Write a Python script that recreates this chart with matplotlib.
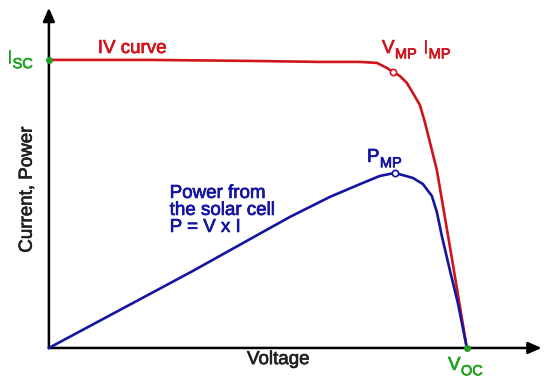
import numpy as np
import matplotlib.pyplot as plt
import matplotlib.patheffects as pe

plt.rcParams['font.family'] = ['Liberation Sans', 'DejaVu Sans']

# IV curve, normalised (V / Voc, I / Isc)
iv_v = [0.0, 0.2416, 0.4809, 0.6483, 0.744, 0.7847, 0.8086, 0.823, 0.8397, 0.8565,
        0.8708, 0.8876, 0.8995, 0.9115, 0.9282, 0.9641, 1.0]
iv_i = [1.0, 1.0, 0.9965, 0.9931, 0.9931, 0.9896, 0.9722, 0.9583, 0.9444, 0.9201,
        0.8854, 0.8438, 0.7847, 0.7153, 0.6181, 0.3125, 0.0]

# power curve, same scale
pw_v = [0.0, 0.3445, 0.5766, 0.6722, 0.7512, 0.7919, 0.8278, 0.8708, 0.8947, 0.9163,
        0.9282, 0.9402, 0.9593, 0.9785, 1.0]
pw_p = [0.0, 0.2674, 0.4549, 0.5243, 0.5729, 0.5972, 0.6076, 0.5903, 0.5694, 0.5278,
        0.4722, 0.3889, 0.2708, 0.1563, 0.0]

# maximum power points
mpi_v, mpi_i = 0.823, 0.9583
mpp_v, mpp_p = 0.8278, 0.6076

red = '#d0141c'
blue = '#1414a0'
green = '#1fa01f'

fig = plt.figure(figsize=(5.5, 3.88), dpi=100)
ax = fig.add_axes([0, 0, 1, 1])
ax.set_xlim(-0.117, 1.199)
ax.set_ylim(-0.139, 1.208)
ax.axis('off')

# axes with arrow heads
arrow = dict(arrowstyle='-|>,head_length=0.8,head_width=0.35', color='black', lw=1.8,
             shrinkA=0, shrinkB=0)
ax.annotate('', xy=(0, 1.181), xytext=(0, 0), arrowprops=arrow)
ax.annotate('', xy=(1.179, 0), xytext=(0, 0), arrowprops=arrow)

ax.plot(iv_v, iv_i, color=red, lw=1.9, solid_joinstyle='round', zorder=3)
ax.plot(pw_v, pw_p, color=blue, lw=1.9, solid_joinstyle='round', zorder=3)

ax.plot([mpi_v], [mpi_i], 'o', ms=4.5, mfc='white', mec=red, mew=1.2, zorder=4)
ax.plot([mpp_v], [mpp_p], 'o', ms=4.5, mfc='white', mec=blue, mew=1.2, zorder=4)
ax.plot([0, 1], [1, 0], 'o', ms=4, color=green, lw=0, zorder=5)

fs = 13.5
fs_sub = 10.5


def thick(color):
    return [pe.withStroke(linewidth=0.5, foreground=color)]


def sub_label(x, y, main, sub, color):
    t = ax.text(x, y, main, color=color, fontsize=fs, ha='left', va='baseline',
                path_effects=thick(color))
    ax.annotate(sub, xy=(1, 0), xycoords=t, xytext=(0.3, -1), textcoords='offset points',
                color=color, fontsize=fs_sub, ha='left', va='baseline',
                path_effects=thick(color))


sub_label(-0.1005, 0.990, 'I', 'SC', green)
sub_label(0.797, 1.024, 'V', 'MP', red)
sub_label(0.895, 1.024, 'I', 'MP', red)
sub_label(0.761, 0.646, 'P', 'MP', blue)
sub_label(0.955, -0.076, 'V', 'OC', green)

ax.text(0.117, 1.024, 'IV curve', color=red, fontsize=fs, ha='left', va='baseline',
        path_effects=thick(red))
ax.text(0.289, 0.566, 'Power from\nthe solar cell\nP = V x I', color=blue, fontsize=fs,
        ha='left', va='top', linespacing=1.0, path_effects=thick(blue))
ax.text(0.474, -0.056, 'Voltage', color='#222222', fontsize=fs, ha='left', va='baseline',
        path_effects=thick('#222222'))
ax.text(-0.052, 0.549, 'Current, Power', color='#222222', fontsize=fs, rotation=90,
        ha='center', va='center', path_effects=thick('#222222'))

fig.savefig('out.png', dpi=100)
